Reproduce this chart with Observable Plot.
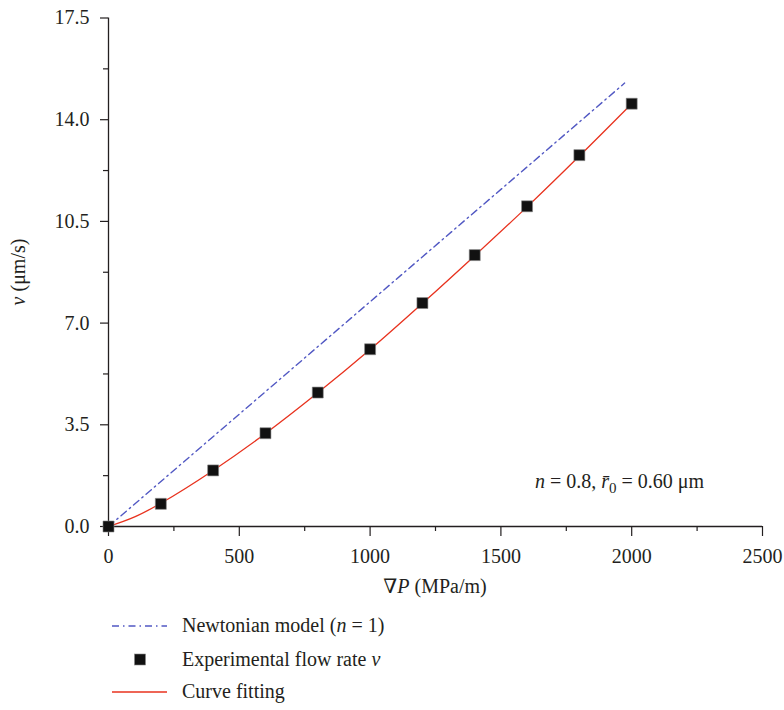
<!DOCTYPE html>
<html><head><meta charset="utf-8">
<script src="https://cdn.jsdelivr.net/npm/d3@7"></script>
<script src="https://cdn.jsdelivr.net/npm/@observablehq/plot@0.6"></script>
<style>
body{margin:0;background:#fff;}
#wrap{width:784px;position:relative;}
svg{display:block;}
</style>
</head><body><div id="wrap"></div>
<script>
// Experimental flow rate v (µm/s) vs pressure gradient ∇P (MPa/m)
const pressureGrad = [0, 200, 400, 600, 800, 1000, 1200, 1400, 1600, 1800, 2000];
const flowRate     = [0, 0.78, 1.93, 3.21, 4.61, 6.10, 7.69, 9.34, 11.02, 12.78, 14.55];
// Curve fitting (red)
const fitX = [0, 100, 200, 400, 600, 800, 1000, 1200, 1400, 1600, 1800, 2000];
const fitV = [0, 0.33, 0.80, 1.93, 3.20, 4.60, 6.09, 7.68, 9.32, 11.00, 12.75, 14.55];
// Newtonian model (n = 1), straight line endpoints
const newtonX = [0, 1973];
const newtonV = [0, 15.26];
// Ticks
const xTicks = [0, 500, 1000, 1500, 2000, 2500];
const xMinor = [250, 750, 1250, 1750, 2250];
const yTicks = [0, 3.5, 7, 10.5, 14, 17.5];
const yMinor = [1.75, 5.25, 8.75, 12.25, 15.75];
const legendLabels = ["Newtonian model", "Experimental flow rate", "Curve fitting"];

const ink = "#231f20";
const blue = "#5158c3";
const red = "#e8321e";
const dash = "7,4,1.5,4";
const font = "'Liberation Serif', 'DejaVu Serif', serif";
const fs = "20px";

const data = pressureGrad.map((p, i) => ({p, v: flowRate[i]}));
const fit = fitX.map((p, i) => ({p, v: fitV[i]}));
const newton = newtonX.map((p, i) => ({p, v: newtonV[i]}));

const chart = Plot.plot({
  width: 784, height: 600,
  marginLeft: 108, marginRight: 22, marginTop: 17.5, marginBottom: 74,
  style: {fontFamily: font, fontSize: fs, color: ink, background: "#fff"},
  x: {domain: [0, 2500]},
  y: {domain: [0, 17.5]},
  marks: [
    Plot.axisX(xTicks, {tickSize: 10, tickPadding: 12, tickFormat: d3.format("d"), label: null, strokeWidth: 1.2}),
    Plot.axisX(xMinor, {tickSize: 5, tickFormat: () => "", label: null, strokeWidth: 1.2}),
    Plot.axisY(yTicks, {tickSize: 8, tickPadding: 11, tickFormat: d3.format(".1f"), label: null, strokeWidth: 1.2}),
    Plot.axisY(yMinor, {tickSize: 5, tickFormat: () => "", label: null, strokeWidth: 1.2}),
    Plot.ruleY([0], {stroke: ink, strokeWidth: 1.3}),
    Plot.ruleX([0], {stroke: ink, strokeWidth: 1.3}),
    Plot.line(newton, {x: "p", y: "v", stroke: blue, strokeWidth: 1.4, strokeDasharray: dash}),
    Plot.line(fit, {x: "p", y: "v", stroke: red, strokeWidth: 1.3, curve: "catmull-rom"}),
    Plot.dot(data, {x: "p", y: "v", symbol: "square", r: 6.2, fill: "#111", stroke: "#888", strokeWidth: 0.6})
  ]
});

const svg = d3.select(chart);
const sx = chart.scale("x");
// x-axis label
const xl = svg.append("text").attr("x", sx.apply(1250)).attr("y", 593)
  .attr("text-anchor", "middle").attr("fill", ink);
xl.append("tspan").text("\u2207");
xl.append("tspan").attr("font-style", "italic").text("P");
xl.append("tspan").text(" (MPa/m)");
// y-axis label
const yl = svg.append("text").attr("transform", "translate(25,272) rotate(-90)")
  .attr("text-anchor", "middle").attr("fill", ink);
yl.append("tspan").attr("font-style", "italic").text("v");
yl.append("tspan").text(" (\u03bcm/s)");
// annotation
const an = svg.append("text").attr("x", 535).attr("y", 488).attr("fill", ink)
  .attr("text-anchor", "start");
an.append("tspan").attr("font-style", "italic").text("n");
an.append("tspan").text(" = 0.8, ");
an.append("tspan").attr("font-style", "italic").text("r\u0304");
an.append("tspan").attr("font-size", "15px").attr("dy", 5).text("0");
an.append("tspan").attr("dy", -5).text(" = 0.60 \u03bcm");

document.getElementById("wrap").appendChild(chart);

// Legend below the chart
const leg = d3.select("#wrap").append("svg").attr("width", 784).attr("height", 110)
  .style("font-family", font).style("font-size", fs);
leg.append("line").attr("x1", 112).attr("x2", 167).attr("y1", 26).attr("y2", 26)
  .attr("stroke", blue).attr("stroke-width", 1.4).attr("stroke-dasharray", dash);
const t1 = leg.append("text").attr("x", 182).attr("y", 32).attr("fill", ink);
t1.append("tspan").text(legendLabels[0] + " (");
t1.append("tspan").attr("font-style", "italic").text("n");
t1.append("tspan").text(" = 1)");
leg.append("rect").attr("x", 134.5).attr("y", 54).attr("width", 11).attr("height", 11)
  .attr("fill", "#111").attr("stroke", "#888").attr("stroke-width", 0.6);
const t2 = leg.append("text").attr("x", 182).attr("y", 66).attr("fill", ink);
t2.append("tspan").text(legendLabels[1] + " ");
t2.append("tspan").attr("font-style", "italic").text("v");
leg.append("line").attr("x1", 112).attr("x2", 167).attr("y1", 92).attr("y2", 92)
  .attr("stroke", red).attr("stroke-width", 1.3);
leg.append("text").attr("x", 182).attr("y", 98).attr("fill", ink).text(legendLabels[2]);
</script>
</body></html>
